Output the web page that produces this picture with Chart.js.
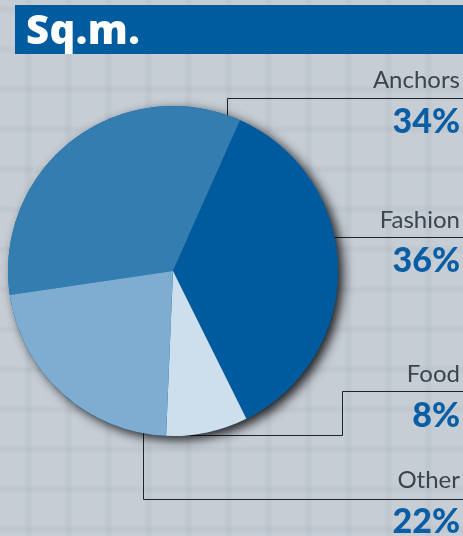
<!DOCTYPE html>
<html>
<head>
<meta charset="utf-8">
<script src="https://cdn.jsdelivr.net/npm/chart.js@4/dist/chart.umd.min.js"></script>
<style>
  html, body { margin: 0; padding: 0; }
  body {
    width: 463px; height: 536px; overflow: hidden; position: relative;
    background-color: #c6cdd5;
    background-image:
      repeating-linear-gradient(90deg, rgba(0,0,0,0) 0px, rgba(0,0,0,0) 24px, rgba(110,122,138,0.08) 27px, rgba(110,122,138,0.08) 30px, rgba(0,0,0,0) 33px, rgba(0,0,0,0) 40px),
      repeating-linear-gradient(0deg, rgba(0,0,0,0) 0px, rgba(0,0,0,0) 2px, rgba(110,122,138,0.07) 5px, rgba(110,122,138,0.07) 8px, rgba(0,0,0,0) 11px, rgba(0,0,0,0) 40px);
  }
  #title {
    position: absolute; left: 15px; top: 5px; width: 448px; height: 49px;
    background: #005c9e; color: #fff; z-index: 2;
    font-family: "Open Sans", Lato, sans-serif; font-weight: 800; font-size: 40px;
    line-height: 47px; padding-left: 11px; box-sizing: border-box; letter-spacing: 0.5px;
  }
  #chart { position: absolute; left: 0; top: 0; z-index: 1; }
</style>
</head>
<body>
<div id="title">Sq.m.</div>
<canvas id="chart" width="463" height="536"></canvas>
<script>
// Floor-space split by tenant type
const categories = ['Anchors', 'Fashion', 'Food', 'Other'];
const shares = [34, 36, 8, 22];
const shareLabels = ['34%', '36%', '8%', '22%'];
const sliceColors = ['#347db1', '#005b9e', '#cddfed', '#7eadd1'];

// Callout layout: leader routes and label baselines
const leaderRoutes = [
  [['x', 227], [227, 98], [463, 98]],
  [['y', 237], [463, 237]],
  [['y', 435], [342, 435], [342, 391], [463, 391]],
  [['x', 143], [143, 499], [463, 499]]
];
const nameBaselines = [88, 228, 382, 488];
const valueBaselines = [133, 272, 427, 533];

const callouts = {
  id: 'callouts',
  beforeDatasetsDraw(chart) {
    const arc = chart.getDatasetMeta(0).data[0];
    const cx = arc.x, cy = arc.y, r = arc.outerRadius;
    const ctx = chart.ctx;
    ctx.save();
    // leader lines start under the pie so the pie hides their inner ends
    ctx.strokeStyle = '#1f2328';
    ctx.lineWidth = 1;
    leaderRoutes.forEach(route => {
      ctx.beginPath();
      const s = route[0];
      const start = s[0] === 'x' ? [s[1], cy] : [cx, s[1]];
      ctx.moveTo(Math.round(start[0]) + 0.5, Math.round(start[1]) + 0.5);
      route.slice(1).forEach(p => ctx.lineTo(p[0] + 0.5, p[1] + 0.5));
      ctx.stroke();
    });
    // drop shadow behind the pie
    ctx.shadowColor = 'rgba(0,0,0,0.85)';
    ctx.shadowBlur = 11;
    ctx.shadowOffsetX = 5;
    ctx.shadowOffsetY = 4;
    ctx.fillStyle = '#005b9e';
    ctx.beginPath();
    ctx.arc(cx, cy, r, 0, Math.PI * 2);
    ctx.fill();
    ctx.restore();
  },
  afterDraw(chart) {
    const ctx = chart.ctx;
    ctx.save();
    ctx.textAlign = 'right';
    ctx.textBaseline = 'alphabetic';
    categories.forEach((name, i) => {
      ctx.fillStyle = '#3c444e';
      ctx.font = '400 24px Lato, "Open Sans", sans-serif';
      ctx.fillText(name, 460, nameBaselines[i]);
      ctx.fillStyle = '#0b5ea4';
      ctx.font = '900 34px Lato, "Open Sans", sans-serif';
      ctx.fillText(shareLabels[i], 460, valueBaselines[i]);
    });
    ctx.restore();
  }
};

new Chart(document.getElementById('chart'), {
  type: 'pie',
  data: {
    labels: categories,
    datasets: [{
      data: shares,
      backgroundColor: sliceColors,
      borderWidth: 0
    }]
  },
  options: {
    responsive: false,
    animation: false,
    rotation: -98.4,
    layout: { padding: { left: 8, right: 125, top: 106, bottom: 100 } },
    plugins: { legend: { display: false }, tooltip: { enabled: false }, title: { display: false } }
  },
  plugins: [callouts]
});
</script>
</body>
</html>
